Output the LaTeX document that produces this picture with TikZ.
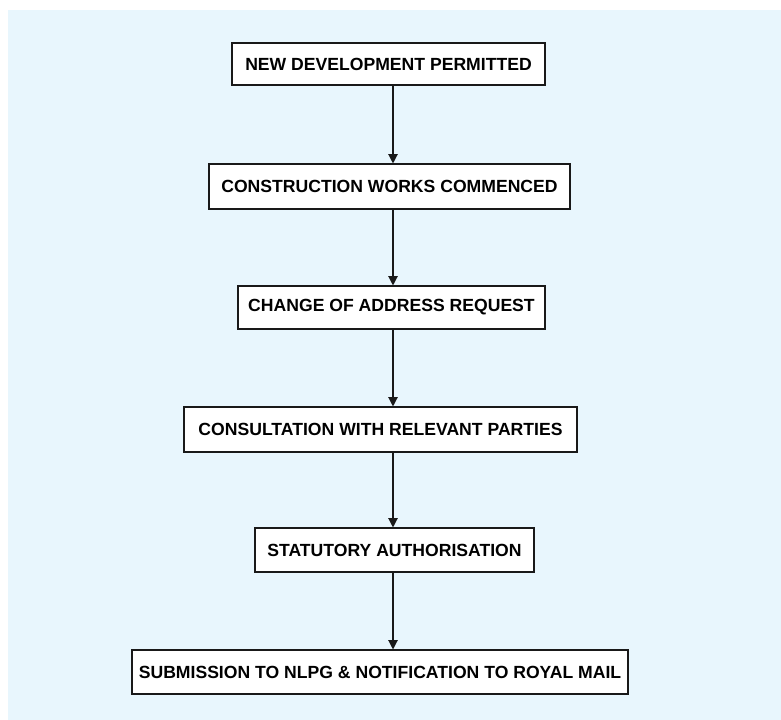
\documentclass[tikz,border=0pt]{standalone}
\usepackage{fontspec}
\setmainfont{Liberation Sans}
\usepackage{xcolor}
\usetikzlibrary{arrows.meta, positioning, calc}
\definecolor{panelblue}{RGB}{232,246,253}
\definecolor{lineblack}{RGB}{25,25,25}

\begin{document}
\begin{tikzpicture}[x=0.75pt, y=-0.75pt,
    stage/.style={rectangle, draw=lineblack, line width=0.8pt, fill=white, inner sep=0pt,
        font=\bfseries\fontsize{13.2}{15}\selectfont},
    flow/.style={draw=lineblack, line width=0.9pt, -{Triangle[width=7pt, length=7pt]}}]
    \useasboundingbox (0,0) rectangle (781,720);
    \fill[panelblue] (8,10) rectangle (781,720);
    \coordinate (ax) at (393,0);
    \node[stage, minimum width=313*0.75pt, minimum height=42*0.75pt] (permit) at (388.5,64) {NEW DEVELOPMENT PERMITTED};
    \node[stage, minimum width=361*0.75pt, minimum height=45*0.75pt] (works) at (389.5,186.5) {CONSTRUCTION WORKS COMMENCED};
    \node[stage, minimum width=307*0.75pt, minimum height=43*0.75pt] (request) at (391.5,307.5) {CHANGE OF ADDRESS REQUEST};
    \node[stage, minimum width=393*0.75pt, minimum height=45*0.75pt] (consult) at (380.5,429.5) {CONSULTATION WITH RELEVANT PARTIES};
    \node[stage, minimum width=279*0.75pt, minimum height=44*0.75pt] (statute) at (394.5,550) {STATUTORY AUTHORISATION};
    \node[stage, minimum width=496*0.75pt, minimum height=44*0.75pt] (submit) at (380,672) {SUBMISSION TO NLPG \& NOTIFICATION TO ROYAL MAIL};
    \draw[flow] (permit.south -| ax) -- (works.north -| ax);
    \draw[flow] (works.south -| ax) -- (request.north -| ax);
    \draw[flow] (request.south -| ax) -- (consult.north -| ax);
    \draw[flow] (consult.south -| ax) -- (statute.north -| ax);
    \draw[flow] (statute.south -| ax) -- (submit.north -| ax);
\end{tikzpicture}
\end{document}
